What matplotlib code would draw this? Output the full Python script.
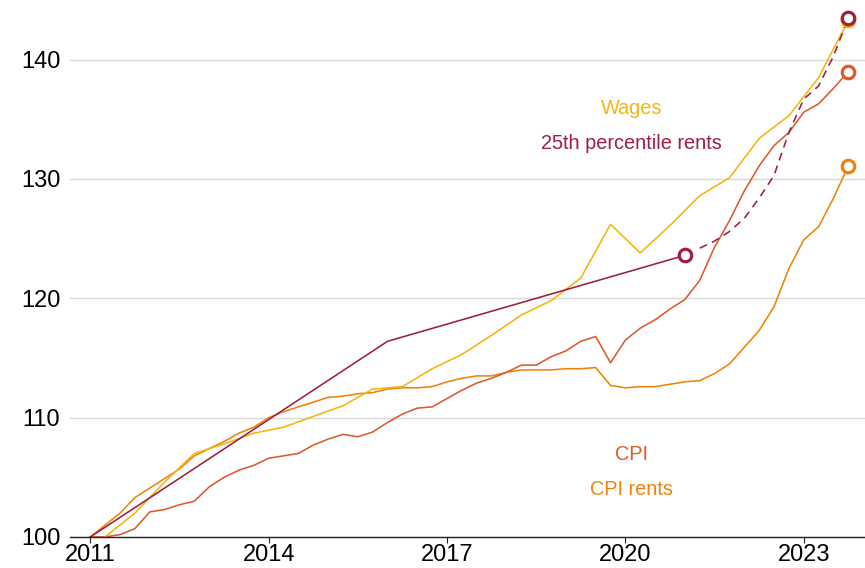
import numpy as np
import matplotlib.pyplot as plt

plt.rcParams['font.family'] = ['Liberation Sans', 'DejaVu Sans']

# quarterly CPI and CPI rents, 2011 Q1 .. 2023 Q4 (index, 2011 = 100)
quarters = np.arange(2011, 2023.76, 0.25)
cpi = [100.0, 100.0, 100.2, 100.7, 102.1, 102.3, 102.7, 103.0, 104.2, 105.0,
       105.6, 106.0, 106.6, 106.8, 107.0, 107.7, 108.2, 108.6, 108.4, 108.8,
       109.6, 110.3, 110.8, 110.9, 111.6, 112.3, 112.9, 113.3, 113.8, 114.4,
       114.4, 115.1, 115.6, 116.4, 116.8, 114.6, 116.5, 117.5, 118.2, 119.1,
       119.9, 121.5, 124.3, 126.5, 129.0, 131.1, 132.8, 133.9, 135.6, 136.3,
       137.6, 139.0]
cpi_rents = [100.0, 101.0, 102.0, 103.3, 104.1, 104.9, 105.7, 106.8, 107.4, 108.0,
             108.7, 109.2, 110.0, 110.5, 110.9, 111.3, 111.7, 111.8, 112.0, 112.1,
             112.4, 112.5, 112.5, 112.6, 113.0, 113.3, 113.5, 113.5, 113.8, 114.0,
             114.0, 114.0, 114.1, 114.1, 114.2, 112.7, 112.5, 112.6, 112.6, 112.8,
             113.0, 113.1, 113.7, 114.5, 115.9, 117.3, 119.3, 122.5, 124.9, 126.0,
             128.4, 131.1]

# half-yearly wages
wage_years = np.arange(2011.25, 2023.76, 0.5)
wages = [100.0, 102.0, 104.6, 107.0, 107.8, 108.7, 109.2, 110.1, 111.0, 112.4,
         112.6, 114.1, 115.3, 116.9, 118.6, 119.8, 121.7, 126.2, 123.8, 126.1,
         128.6, 130.1, 133.4, 135.3, 138.5, 143.3]

# 25th percentile rents: census years, then estimate (dashed)
rent_years = [2011, 2016, 2021]
rent25 = [100.0, 116.4, 123.6]
rent_est_years = np.arange(2021, 2023.76, 0.25)
rent25_est = [123.6, 124.2, 124.8, 125.6, 126.7, 128.4, 130.3, 133.9, 136.7,
              137.8, 140.3, 143.5]

c_wage = '#f5b40f'
c_rent = '#9e1f40'
c_cpi = '#dd5a2c'
c_cpir = '#f0820c'

fig = plt.figure(figsize=(8.65, 5.68), dpi=100)
ax = fig.add_axes([0.081, 0.0546, 0.919, 0.9454])

lw = 1.15
mk = dict(marker='o', ms=9, mfc='white', mew=2.3, zorder=5, clip_on=False)

ax.plot(quarters, cpi_rents, color=c_cpir, lw=lw)
ax.plot(quarters, cpi, color=c_cpi, lw=lw)
ax.plot(wage_years, wages, color=c_wage, lw=lw)
ax.plot(rent_years, rent25, color=c_rent, lw=lw)
ax.plot(rent_est_years[1:], rent25_est[1:], color=c_rent, lw=lw, ls=(0, (5, 3.5)))

ax.plot(quarters[-1], cpi_rents[-1], color=c_cpir, **mk)
ax.plot(quarters[-1], cpi[-1], color=c_cpi, **mk)
ax.plot(wage_years[-1], wages[-1], color=c_wage, **mk)
ax.plot(rent_years[-1], rent25[-1], color=c_rent, **mk)
ax.plot(rent_est_years[-1], rent25_est[-1], color=c_rent, **mk)

fs = 14.3
ax.text(2020.1, 135.9, 'Wages', color=c_wage, fontsize=fs, ha='center', va='center')
ax.text(2020.1, 133.0, '25th percentile rents', color=c_rent, fontsize=fs, ha='center', va='center')
ax.text(2020.1, 106.9, 'CPI', color=c_cpi, fontsize=fs, ha='center', va='center')
ax.text(2020.1, 104.0, 'CPI rents', color=c_cpir, fontsize=fs, ha='center', va='center')

ax.set_xlim(2010.66, 2024.03)
ax.set_ylim(100, 145)
ax.set_yticks([100, 110, 120, 130, 140])
ax.set_xticks([2011, 2014, 2017, 2020, 2023])
ax.grid(axis='y', color='#d9d9d9', lw=1.0)
ax.set_axisbelow(True)
for s in ['top', 'right', 'left']:
    ax.spines[s].set_visible(False)
ax.spines['bottom'].set_color('#222222')
ax.spines['bottom'].set_linewidth(1.0)
ax.tick_params(axis='y', length=0, pad=7, labelsize=17)
ax.tick_params(axis='x', length=4, width=0.8, color='#222222', pad=1, labelsize=17)

fig.savefig('out.png', dpi=100)
